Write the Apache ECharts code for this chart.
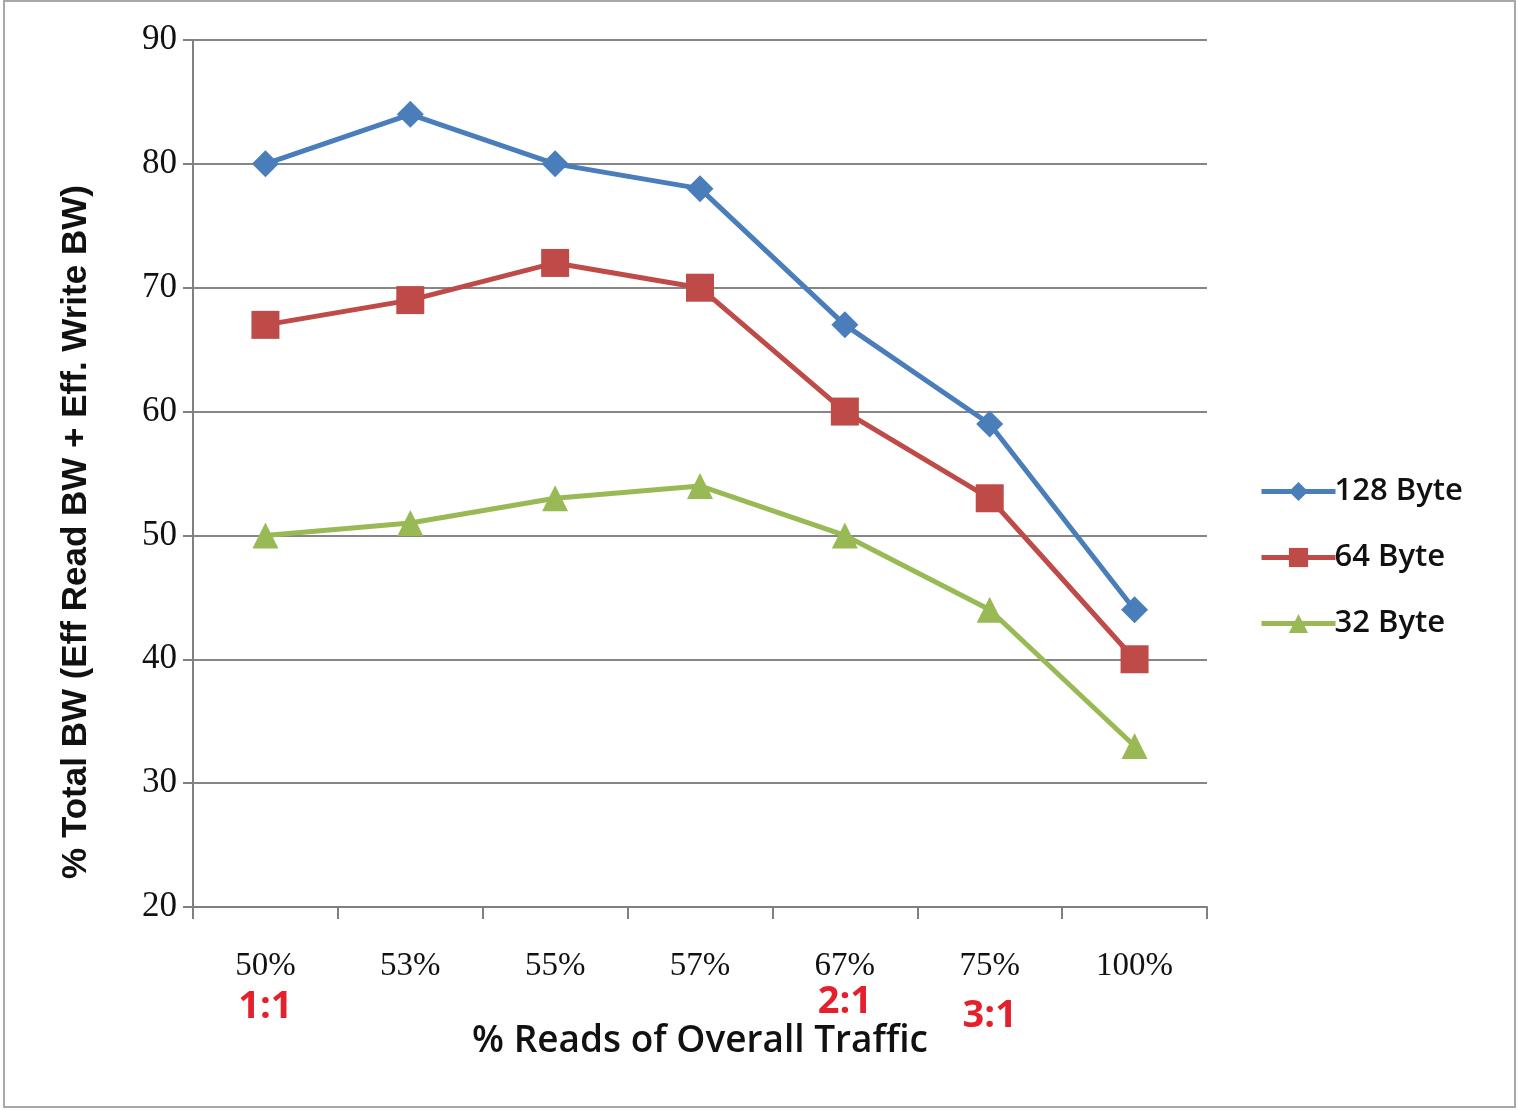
<!DOCTYPE html>
<html>
<head>
<meta charset="utf-8">
<script src="https://cdn.jsdelivr.net/npm/echarts@6/dist/echarts.min.js"></script>
<style>
  html, body { margin: 0; padding: 0; background: #fff; }
  #chart { width: 1518px; height: 1110px; }
</style>
</head>
<body>
<div id="chart"></div>
<script>
// Read share of total traffic, with read:write ratio notes under some columns
const categories = ['50%', '53%', '55%', '57%', '67%', '75%', '100%'];
const ratioNotes = ['1:1', '', '', '', '2:1', '3:1', ''];
const yTicks = [20, 30, 40, 50, 60, 70, 80, 90];

const bw128 = [80, 84, 80, 78, 67, 59, 44];
const bw64 = [67, 69, 72, 70, 60, 53, 40];
const bw32 = [50, 51, 53, 54, 50, 44, 33];

const yTitle = '% Total BW (Eff Read BW + Eff. Write BW)';

const chart = echarts.init(document.getElementById('chart'), null, { renderer: 'canvas' });

function lineSeries(name, data, color, symbol, size) {
  return {
    name: name,
    type: 'line',
    data: data,
    symbol: symbol,
    symbolSize: size,
    lineStyle: { color: color, width: 5 },
    itemStyle: { color: color },
    emphasis: { disabled: true },
    z: 3
  };
}

const ratioStyle = { fontFamily: 'Open Sans', fontWeight: 'bold', fontSize: 38, color: '#e3202b' };

chart.setOption({
  animation: false,
  backgroundColor: '#fff',
  grid: { left: 193, right: 311, top: 40, bottom: 203, containLabel: false },
  legend: {
    orient: 'vertical',
    left: 1254,
    top: 471,
    itemWidth: 74,
    itemHeight: 24,
    itemGap: 35,
    lineStyle: { width: 5 },
    textStyle: { fontFamily: 'Open Sans', fontWeight: 600, fontSize: 31, color: '#111', padding: [0, 0, 0, -6] },
    data: ['128 Byte', '64 Byte', '32 Byte']
  },
  graphic: [
    {
      // outer frame
      type: 'rect',
      silent: true,
      shape: { x: 4, y: 1, width: 1511, height: 1106 },
      style: { fill: 'none', stroke: '#a8a8a8', lineWidth: 2 }
    },
    {
      type: 'text',
      silent: true,
      x: 76,
      y: 532,
      rotation: Math.PI / 2,
      style: {
        text: yTitle,
        fontFamily: 'Liberation Sans',
        fontWeight: 'bold',
        fontSize: 35,
        fill: '#111',
        align: 'center',
        verticalAlign: 'middle'
      }
    }
  ],
  xAxis: {
    type: 'category',
    data: categories,
    boundaryGap: true,
    name: '% Reads of Overall Traffic',
    nameLocation: 'middle',
    nameGap: 116,
    nameMoveOverlap: false,
    nameTextStyle: { fontFamily: 'Open Sans', fontWeight: 600, fontSize: 37, color: '#111' },
    axisLine: { lineStyle: { color: '#808080', width: 2 } },
    axisTick: { show: true, length: 12, lineStyle: { color: '#808080', width: 2 }, interval: 0 },
    axisLabel: {
      interval: 0,
      margin: 42,
      fontFamily: 'Liberation Serif',
      fontSize: 33,
      color: '#111',
      lineHeight: 34,
      formatter: function (v, i) {
        const note = ratioNotes[i];
        if (!note) return v;
        return v + '\n{r' + i + '|' + note + '}';
      },
      rich: {
        r0: Object.assign({ lineHeight: 48 }, ratioStyle),
        r4: Object.assign({ lineHeight: 38 }, ratioStyle),
        r5: Object.assign({ lineHeight: 56, padding: [10, 0, 0, 0] }, ratioStyle)
      }
    },
    splitLine: { show: false }
  },
  yAxis: {
    type: 'value',
    min: 20,
    max: 90,
    interval: 10,
    axisLine: { show: true, lineStyle: { color: '#808080', width: 2 } },
    axisTick: { show: true, length: 10, lineStyle: { color: '#808080', width: 2 } },
    axisLabel: {
      margin: 16,
      fontFamily: 'Liberation Serif',
      fontSize: 35,
      color: '#111',
      formatter: function (v) { return yTicks.indexOf(v) >= 0 ? String(v) : ''; }
    },
    splitLine: { show: true, lineStyle: { color: '#868686', width: 2 } }
  },
  series: [
    lineSeries('128 Byte', bw128, '#4a7ebb', 'diamond', 27),
    lineSeries('64 Byte', bw64, '#be4b48', 'rect', 28),
    lineSeries('32 Byte', bw32, '#98b954', 'triangle', 26)
  ]
});
</script>
</body>
</html>
